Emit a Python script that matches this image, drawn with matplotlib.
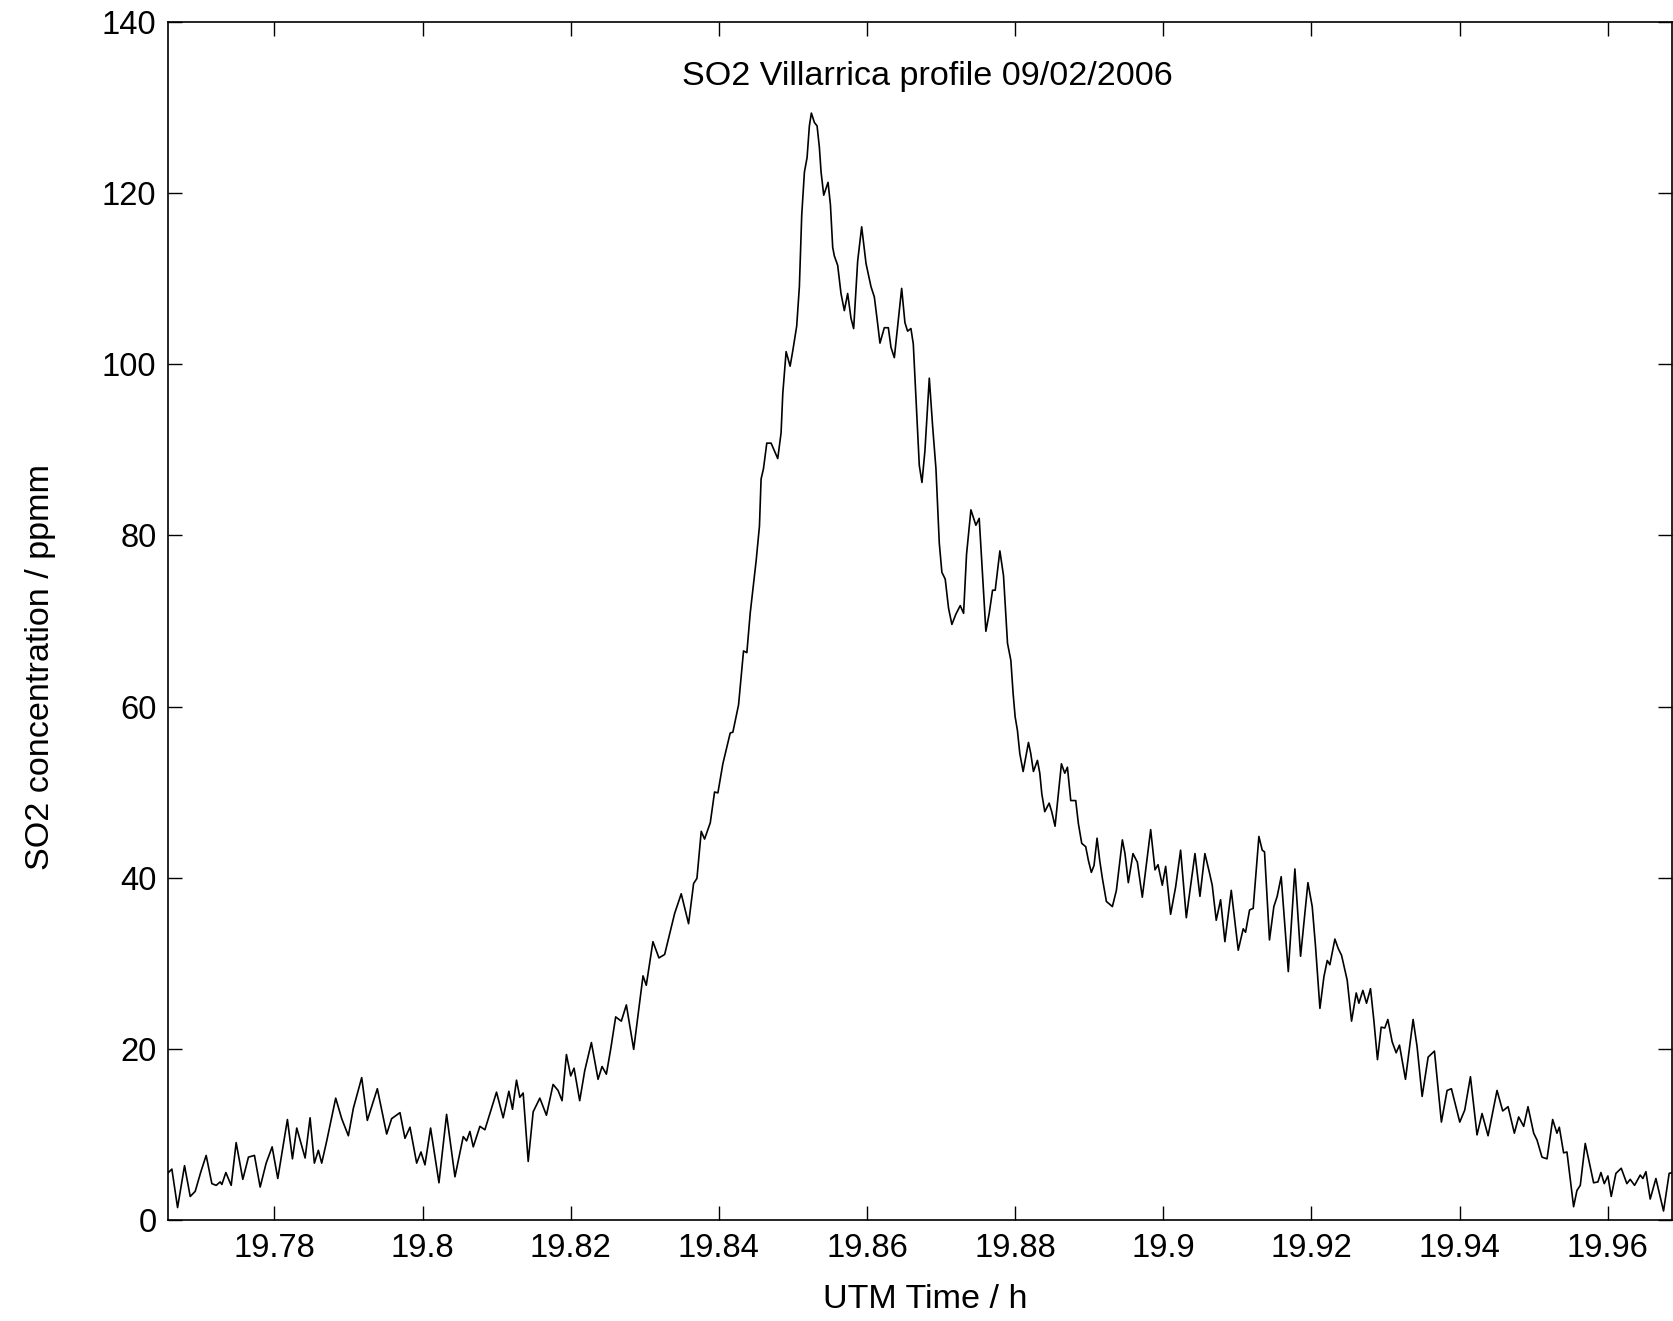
import matplotlib
matplotlib.use("Agg")
import matplotlib.pyplot as plt
import numpy as np

plt.rcParams["font.family"] = ["Liberation Sans", "DejaVu Sans"]

# --- Data (UTM time [h], SO2 [ppmm]) ---
time_h = [
    19.76557, 19.76615, 19.76692, 19.76786, 19.76863, 19.76930, 19.77007, 19.77078,
    19.77155, 19.77213, 19.77267, 19.77290, 19.77344, 19.77416, 19.77483, 19.77573,
    19.77649, 19.77730, 19.77807, 19.77888, 19.77969, 19.78045, 19.78175, 19.78243,
    19.78301, 19.78414, 19.78481, 19.78539, 19.78593, 19.78638, 19.78706, 19.78827,
    19.78908, 19.78998, 19.79065, 19.79178, 19.79254, 19.79389, 19.79515, 19.79582,
    19.79695, 19.79762, 19.79830, 19.79920, 19.79978, 19.80032, 19.80108, 19.80221,
    19.80324, 19.80437, 19.80549, 19.80594, 19.80639, 19.80684, 19.80774, 19.80841,
    19.80909, 19.80998, 19.81088, 19.81165, 19.81214, 19.81268, 19.81313, 19.81358,
    19.81426, 19.81493, 19.81583,
    19.81672, 19.81762, 19.81829, 19.81883, 19.81942, 19.82000, 19.82045, 19.82121,
    19.82189, 19.82279, 19.82369, 19.82423, 19.82481, 19.82539, 19.82607, 19.82683,
    19.82751, 19.82850, 19.82976, 19.83020, 19.83110, 19.83191, 19.83268, 19.83403,
    19.83492, 19.83591, 19.83659, 19.83704, 19.83762, 19.83807, 19.83884, 19.83942,
    19.83987, 19.84054, 19.84153, 19.84189, 19.84266, 19.84333, 19.84378, 19.84423,
    19.84504,
    19.84548, 19.84570, 19.84602, 19.84647, 19.84705, 19.84750, 19.84795, 19.84840,
    19.84863, 19.84908, 19.84962, 19.84998, 19.85051, 19.85087, 19.85119, 19.85155,
    19.85191, 19.85222, 19.85249, 19.85290, 19.85326, 19.85357, 19.85380, 19.85416,
    19.85474, 19.85506, 19.85537, 19.85559, 19.85604, 19.85649, 19.85694, 19.85739,
    19.85784, 19.85820, 19.85874, 19.85928, 19.85987, 19.86054, 19.86099, 19.86135,
    19.86175, 19.86234, 19.86288, 19.86324, 19.86369, 19.86414, 19.86468, 19.86512,
    19.86548, 19.86593, 19.86625, 19.86670, 19.86706, 19.86742, 19.86782, 19.86841,
    19.86886, 19.86931, 19.86976, 19.87011, 19.87056, 19.87101, 19.87146, 19.87200,
    19.87259, 19.87304, 19.87344, 19.87403, 19.87470, 19.87515, 19.87560, 19.87605,
    19.87650, 19.87695, 19.87731, 19.87794, 19.87843,
    19.87897, 19.87942, 19.87973, 19.88000, 19.88031, 19.88063, 19.88108, 19.88144,
    19.88180, 19.88211, 19.88247, 19.88301, 19.88333, 19.88360, 19.88400, 19.88459,
    19.88494, 19.88539, 19.88584, 19.88625, 19.88670, 19.88706, 19.88751, 19.88818,
    19.88854, 19.88899, 19.88953, 19.88989, 19.89029, 19.89065, 19.89106, 19.89142,
    19.89178, 19.89232, 19.89313, 19.89367, 19.89448, 19.89483, 19.89528, 19.89591,
    19.89650, 19.89717, 19.89785, 19.89830, 19.89888, 19.89929, 19.89987, 19.90032,
    19.90099, 19.90167, 19.90234, 19.90311, 19.90428, 19.90495, 19.90562, 19.90625,
    19.90661, 19.90715, 19.90774, 19.90832, 19.90918, 19.91012, 19.91079, 19.91111,
    19.91165, 19.91214, 19.91291, 19.91336, 19.91367, 19.91434, 19.91493, 19.91538,
    19.91592, 19.91688,
    19.91777, 19.91854, 19.91953, 19.92011, 19.92056, 19.92115, 19.92169, 19.92214,
    19.92249, 19.92317, 19.92362, 19.92407, 19.92483, 19.92542, 19.92605, 19.92641,
    19.92695, 19.92744, 19.92798, 19.92843, 19.92892, 19.92942, 19.92991, 19.93032,
    19.93090, 19.93144, 19.93189, 19.93270, 19.93373, 19.93427, 19.93495, 19.93576,
    19.93661, 19.93755, 19.93832, 19.93890, 19.94003, 19.94070, 19.94147, 19.94236,
    19.94304, 19.94385, 19.94506, 19.94583, 19.94655, 19.94740, 19.94798, 19.94866,
    19.94924, 19.95001, 19.95046, 19.95113, 19.95181, 19.95257, 19.95315, 19.95347,
    19.95405, 19.95450, 19.95540, 19.95585, 19.95630, 19.95697, 19.95810, 19.95868,
    19.95909, 19.95954, 19.96003, 19.96048, 19.96111, 19.96183, 19.96259, 19.96304,
    19.96363, 19.96439, 19.96475, 19.96516, 19.96574, 19.96651, 19.96754, 19.96830,
    19.96875,
]

so2_ppmm = [
    5.4, 5.9, 1.4, 6.3, 2.7, 3.3, 5.6, 7.5,
    4.2, 4.0, 4.4, 4.1, 5.5, 4.0, 9.0, 4.7,
    7.3, 7.5, 3.8, 6.6, 8.5, 4.8, 11.7, 7.1,
    10.7, 7.2, 11.9, 6.6, 8.1, 6.6, 9.2, 14.2,
    11.8, 9.8, 13.0, 16.6, 11.6, 15.3, 10.0, 11.8,
    12.5, 9.5, 10.8, 6.6, 7.9, 6.4, 10.7, 4.3,
    12.3, 5.0, 9.7, 9.2, 10.3, 8.5, 10.9, 10.5,
    12.4, 14.9, 11.9, 15.0, 12.9, 16.3, 14.3, 14.8,
    6.8, 12.6, 14.2,
    12.2, 15.8, 15.1, 13.9, 19.3, 16.8, 17.7, 13.9,
    17.4, 20.7, 16.4, 17.9, 17.0, 19.9, 23.7, 23.2,
    25.1, 19.9, 28.5, 27.4, 32.5, 30.6, 31.0, 35.8,
    38.1, 34.6, 39.3, 39.9, 45.4, 44.5, 46.4, 50.0,
    49.9, 53.3, 56.9, 57.0, 60.2, 66.5, 66.3, 70.9,
    77.1,
    81.1, 86.6, 87.8, 90.8, 90.8, 89.9, 89.0, 92.0,
    96.6, 101.5, 99.8, 101.6, 104.5, 109.1, 117.5, 122.5,
    124.2, 127.9, 129.4, 128.3, 127.9, 125.4, 122.5, 119.8,
    121.3, 118.7, 113.7, 112.7, 111.6, 108.3, 106.3, 108.3,
    105.4, 104.2, 112.1, 116.1, 111.8, 109.1, 107.9, 105.4,
    102.5, 104.3, 104.3, 102.0, 100.8, 104.5, 108.9, 104.9,
    103.9, 104.2, 102.4, 94.5, 88.2, 86.2, 89.9, 98.4,
    92.8, 87.8, 79.1, 75.7, 74.9, 71.5, 69.6, 70.8,
    71.8, 70.9, 77.8, 83.0, 81.2, 82.0, 75.3, 68.8,
    70.9, 73.6, 73.6, 78.2, 75.3,
    67.4, 65.4, 61.5, 58.8, 57.2, 54.5, 52.4, 54.1,
    55.8, 54.5, 52.4, 53.7, 52.2, 49.8, 47.7, 48.7,
    47.7, 46.0, 49.8, 53.3, 52.2, 52.9, 49.0, 49.0,
    46.3, 44.0, 43.6, 42.0, 40.6, 41.4, 44.6, 42.0,
    39.9, 37.2, 36.6, 38.5, 44.4, 42.8, 39.4, 42.8,
    41.8, 37.7, 42.4, 45.6, 40.9, 41.5, 39.1, 41.3,
    35.7, 38.9, 43.2, 35.3, 42.8, 37.8, 42.8, 40.5,
    39.1, 35.0, 37.4, 32.5, 38.5, 31.5, 34.0, 33.6,
    36.2, 36.4, 44.8, 43.2, 43.0, 32.7, 36.6, 37.8,
    40.1, 29.0,
    41.0, 30.8, 39.4, 36.6, 31.9, 24.7, 28.4, 30.3,
    29.8, 32.8, 31.7, 30.9, 28.0, 23.2, 26.5, 25.3,
    26.8, 25.3, 27.0, 23.3, 18.7, 22.5, 22.4, 23.4,
    20.8, 19.5, 20.4, 16.4, 23.4, 20.2, 14.4, 19.0,
    19.7, 11.4, 15.1, 15.3, 11.4, 12.8, 16.7, 9.9,
    12.4, 9.8, 15.1, 12.7, 13.2, 10.1, 12.0, 10.9,
    13.2, 10.1, 9.3, 7.3, 7.1, 11.7, 10.1, 10.8,
    7.8, 7.9, 1.5, 3.4, 4.0, 8.9, 4.3, 4.4,
    5.5, 4.2, 5.1, 2.7, 5.4, 6.0, 4.2, 4.7,
    4.0, 5.2, 4.8, 5.6, 2.4, 4.8, 1.0, 5.4,
    5.5,
]

x_ticks = [19.78, 19.80, 19.82, 19.84, 19.86, 19.88, 19.90, 19.92, 19.94, 19.96]
x_tick_labels = ["19.78", "19.8", "19.82", "19.84", "19.86", "19.88", "19.9",
                 "19.92", "19.94", "19.96"]
y_ticks = [0, 20, 40, 60, 80, 100, 120, 140]

# --- Plot ---
fig = plt.figure(figsize=(16.74, 13.21), dpi=100)
ax = fig.add_axes([0.1001, 0.0768, 0.8990, 0.9062])

ax.plot(time_h, so2_ppmm, color="black", linewidth=1.2)

ax.set_xlim(time_h[0], time_h[-1])
ax.set_ylim(0, 140)
ax.set_xticks(x_ticks)
ax.set_xticklabels(x_tick_labels)
ax.set_yticks(y_ticks)

ax.tick_params(direction="in", length=10, width=1.0, labelsize=23.6,
               top=True, right=True)
ax.tick_params(axis="x", pad=10)
ax.tick_params(axis="y", pad=8)
for sp in ax.spines.values():
    sp.set_linewidth(1.2)

ax.text(0.505, 0.955, "SO2 Villarrica profile 09/02/2006", transform=ax.transAxes,
        ha="center", va="center", fontsize=24.6)

ax.set_xlabel("UTM Time / h", fontsize=24.6)
ax.xaxis.set_label_coords(0.5037, -0.0664)
ax.xaxis.label.set_va("center")
ax.set_ylabel("SO2 concentration / ppmm", fontsize=24.6)
ax.yaxis.set_label_coords(-0.0844, 0.4616)
ax.yaxis.label.set_va("center")

fig.savefig("out.png", dpi=100)
